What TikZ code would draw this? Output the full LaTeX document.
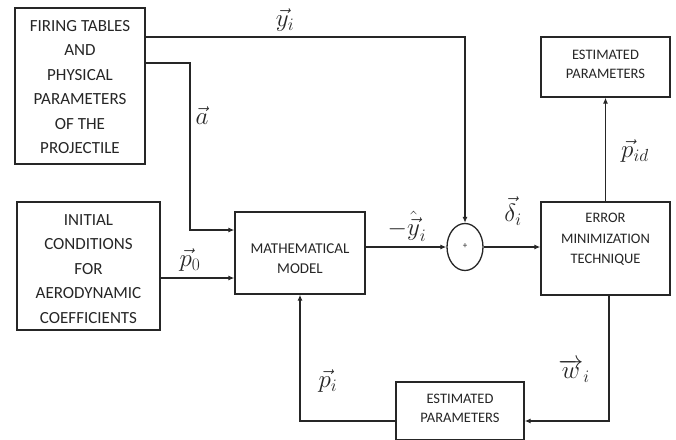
\RequirePackage{fix-cm}
\documentclass[tikz,border=0pt]{standalone}
\usepackage{fontspec}
\setmainfont{Carlito}
\usetikzlibrary{arrows.meta,shapes.geometric}
\begin{document}
\begin{tikzpicture}[x=1pt,y=-1pt,
  box/.style={draw=black!85, line width=1.3pt, inner sep=0pt, rectangle},
  txt/.style={text=black!85, align=center, inner sep=0pt},
  big/.style={font=\fontsize{17}{24.5}\selectfont},
  small/.style={font=\fontsize{14.5}{19.5}\selectfont},
  lab/.style={font=\fontsize{25}{28}\selectfont, text=black!85, inner sep=0pt},
  arr/.style={-{Latex[length=6pt,width=5pt]}, line width=1.3pt, draw=black!85},
]
\useasboundingbox (0,0) rectangle (676,439);
\clip (0,0) rectangle (676,439);
\fill[white] (0,0) rectangle (676,439);

% boxes
\node[box, minimum width=130pt, minimum height=156pt] (b1) at (80,86) {};
\node[txt, big] (t1) at (80,87) {FIRING TABLES\\AND\\PHYSICAL\\PARAMETERS\\OF THE\\PROJECTILE};
\node[box, minimum width=143pt, minimum height=128pt] (b2) at (88.5,266) {};
\node[txt, big] (t2) at (88.5,269) {INITIAL\\CONDITIONS\\FOR\\AERODYNAMIC\\COEFFICIENTS};
\node[box, minimum width=130pt, minimum height=82pt] (mm) at (300,253) {};
\node[txt, small, font=\fontsize{15}{20}\selectfont] (tm) at (300,258.5) {MATHEMATICAL\\MODEL};
\node[draw=black!85, line width=1.3pt, ellipse, inner sep=0pt, minimum width=36pt, minimum height=47pt] (circ) at (465,247) {};
\node[txt, font=\fontsize{9}{10}\selectfont] (plus) at (465,246) {+};
\node[box, minimum width=129pt, minimum height=93pt] (err) at (605.5,248.5) {};
\node[txt, small, font=\fontsize{14.5}{20.5}\selectfont] (te) at (605.5,239.5) {ERROR\\MINIMIZATION\\TECHNIQUE};
\node[box, minimum width=129pt, minimum height=60pt] (est1) at (605.5,67) {};
\node[txt, small] (ts1) at (605.5,64.5) {ESTIMATED\\PARAMETERS};
\node[box, minimum width=128pt, minimum height=58pt] (est2) at (460,411) {};
\node[txt, small] (ts2) at (460,408.5) {ESTIMATED\\PARAMETERS};

% helper coordinates
\coordinate (ya) at (0,37);
\coordinate (aa) at (0,63);
\coordinate (ac) at (190,0);
\coordinate (ain) at (0,230);
\coordinate (p0y) at (0,278);
\coordinate (pix) at (300,0);
\coordinate (by) at (0,421);
\coordinate (wx) at (609,0);

% connectors
\draw[arr] (b1.east |- ya) -| (circ.north);
\draw[arr] (b1.east |- aa) -- (ac |- aa) -- (ac |- ain) -- (mm.west |- ain);
\draw[arr] (b2.east |- p0y) -- (mm.west |- p0y);
\draw[arr] (mm.east |- circ.west) -- (circ.west);
\draw[arr] (circ.east) -- (err.west |- circ.east);
\draw[arr] (err.north) -- (est1.south);
\draw[arr] (err.south -| wx) -- (wx |- by) -- (est2.east |- by);
\draw[arr] (est2.west |- by) -- (pix |- by) -- (mm.south -| pix);

% labels
\node[lab] (ly) at (285,20) {$\vec{y}_i$};
\node[lab] (la) at (202,116) {$\vec{a}$};
\node[lab] (lp0) at (190,260) {$\vec{p}_0$};
\node[lab] (lyh) at (407,226) {$-\hat{\vec{y}}_i$};
\node[lab] (ld) at (513,211) {$\vec{\delta}_i$};
\node[lab] (lpid) at (635,151) {$\vec{p}_{id}$};
\node[lab] (lpi) at (328,381) {$\vec{p}_i$};
\node[lab] (lw) at (574,371) {$\overrightarrow{w}_i$};
\end{tikzpicture}
\end{document}
